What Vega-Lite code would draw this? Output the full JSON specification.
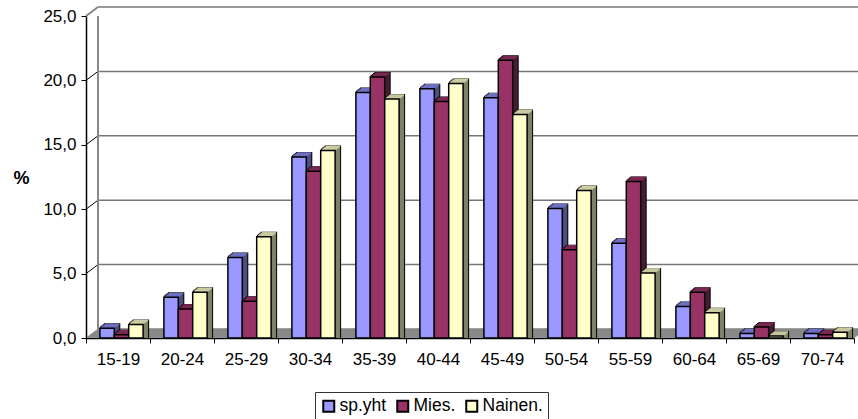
{
"$schema":"https://vega.github.io/schema/vega-lite/v6.json",
"width":768,"height":322,
"autosize":"none",
"padding":{"left":86,"top":16,"right":4,"bottom":81},
"background":"white",
"datasets":{
"bars":[
{"g":"15-19","s":"sp.yht","v":0.6},{"g":"20-24","s":"sp.yht","v":3.0},{"g":"25-29","s":"sp.yht","v":6.1},{"g":"30-34","s":"sp.yht","v":13.9},{"g":"35-39","s":"sp.yht","v":18.9},{"g":"40-44","s":"sp.yht","v":19.2},{"g":"45-49","s":"sp.yht","v":18.5},{"g":"50-54","s":"sp.yht","v":9.9},{"g":"55-59","s":"sp.yht","v":7.2},{"g":"60-64","s":"sp.yht","v":2.3},{"g":"65-69","s":"sp.yht","v":0.2},{"g":"70-74","s":"sp.yht","v":0.2},
{"g":"15-19","s":"Mies.","v":0.1},{"g":"20-24","s":"Mies.","v":2.1},{"g":"25-29","s":"Mies.","v":2.7},{"g":"30-34","s":"Mies.","v":12.8},{"g":"35-39","s":"Mies.","v":20.1},{"g":"40-44","s":"Mies.","v":18.2},{"g":"45-49","s":"Mies.","v":21.4},{"g":"50-54","s":"Mies.","v":6.7},{"g":"55-59","s":"Mies.","v":12.0},{"g":"60-64","s":"Mies.","v":3.4},{"g":"65-69","s":"Mies.","v":0.7},{"g":"70-74","s":"Mies.","v":0.1},
{"g":"15-19","s":"Nainen.","v":0.9},{"g":"20-24","s":"Nainen.","v":3.4},{"g":"25-29","s":"Nainen.","v":7.7},{"g":"30-34","s":"Nainen.","v":14.4},{"g":"35-39","s":"Nainen.","v":18.4},{"g":"40-44","s":"Nainen.","v":19.6},{"g":"45-49","s":"Nainen.","v":17.2},{"g":"50-54","s":"Nainen.","v":11.3},{"g":"55-59","s":"Nainen.","v":4.9},{"g":"60-64","s":"Nainen.","v":1.8},{"g":"65-69","s":"Nainen.","v":0.0},{"g":"70-74","s":"Nainen.","v":0.3}
],
"grid":[{"v":0},{"v":5},{"v":10},{"v":15},{"v":20},{"v":25}]
},
"data":{"name":"bars"},
"encoding":{
"x":{"field":"g","type":"nominal","sort":null,"title":null,"scale":{"domain":["15-19","20-24","25-29","30-34","35-39","40-44","45-49","50-54","55-59","60-64","65-69","70-74"],"paddingInner":0,"paddingOuter":0},
"axis":{"tickBand":"extent","labelAngle":0,"domainColor":"black","domainWidth":1.5,"tickColor":"black","tickSize":5,"labelFont":"Liberation Sans","labelFontSize":17,"labelColor":"black","labelPadding":8}},
"y":{"field":"v","type":"quantitative","title":"%","scale":{"domain":[0,25],"nice":false},
"axis":{"values":[0,5,10,15,20,25],"grid":false,"domainColor":"black","domainWidth":1.5,"tickColor":"black","tickSize":5,"labelFont":"Liberation Sans","labelFontSize":17,"labelColor":"black","labelPadding":5,"labelExpr":"replace(format(datum.value,'.1f'),'.',',')","titleAngle":0,"titleFont":"Liberation Sans","titleFontSize":18,"titleFontWeight":"bold","titleColor":"black","titleX":-65,"titleY":171}}
},
"layer":[
{"data":{"name":"grid"},"transform":[{"filter":"datum.v>0"}],"mark":{"type":"rule","color":"#777777","strokeWidth":1.5,"xOffset":12,"yOffset":-9,"x2Offset":44},"encoding":{"x":{"datum":"15-19","bandPosition":0},"x2":{"datum":"70-74"},"y":{"field":"v","type":"quantitative"}}},
{"data":{"name":"grid"},"transform":[{"filter":"datum.v==25"}],"mark":{"type":"rule","color":"#888888","strokeWidth":2,"x2Offset":-20,"y2Offset":-9},"encoding":{"x":{"datum":"15-19","bandPosition":0},"x2":{"datum":"15-19"},"y":{"field":"v","type":"quantitative"},"y2":{"field":"v"}}},
{"data":{"name":"grid"},"transform":[{"filter":"datum.v>0&&datum.v<25"}],"mark":{"type":"rule","color":"black","strokeWidth":1,"x2Offset":-20,"y2Offset":-9},"encoding":{"x":{"datum":"15-19","bandPosition":0},"x2":{"datum":"15-19"},"y":{"field":"v","type":"quantitative"},"y2":{"field":"v"}}},
{"transform":[{"filter":"datum.v==0"}],"data":{"name":"grid"},
"encoding":{"x":{"datum":"15-19","bandPosition":0},"x2":{"datum":"70-74"},"y":{"datum":0}},
"layer":[
{"mark":{"type":"rule","color":"#808080","strokeWidth":1.5,"yOffset":-1,"xOffset":1.33,"x2Offset":33.33}},
{"mark":{"type":"rule","color":"#808080","strokeWidth":1.5,"yOffset":-2,"xOffset":2.67,"x2Offset":34.67}},
{"mark":{"type":"rule","color":"#808080","strokeWidth":1.5,"yOffset":-3,"xOffset":4,"x2Offset":36}},
{"mark":{"type":"rule","color":"#808080","strokeWidth":1.5,"yOffset":-4,"xOffset":5.33,"x2Offset":37.33}},
{"mark":{"type":"rule","color":"#808080","strokeWidth":1.5,"yOffset":-5,"xOffset":6.67,"x2Offset":38.67}},
{"mark":{"type":"rule","color":"#808080","strokeWidth":1.5,"yOffset":-6,"xOffset":8,"x2Offset":40}},
{"mark":{"type":"rule","color":"#808080","strokeWidth":1.5,"yOffset":-7,"xOffset":9.33,"x2Offset":41.33}},
{"mark":{"type":"rule","color":"#808080","strokeWidth":1.5,"yOffset":-8,"xOffset":10.67,"x2Offset":42.67}},
{"mark":{"type":"rule","color":"#808080","strokeWidth":1.5,"yOffset":-9,"xOffset":12,"x2Offset":44}}
]},
{"data":{"name":"grid"},"transform":[{"filter":"datum.v==0"}],"mark":{"type":"rule","color":"#888888","strokeWidth":2,"xOffset":12,"yOffset":-9},"encoding":{"x":{"datum":"15-19","bandPosition":0},"y":{"datum":0},"y2":{"datum":25}}},
{"transform":[{"filter":"datum.s=='sp.yht'"}],
"layer":[
{"encoding":{"y2":{"datum":0}},"layer":[
{"mark":{"type":"bar","width":14.4,"fill":"black","stroke":"black","strokeWidth":2,"xOffset":-9.65,"yOffset":-3}},
{"mark":{"type":"bar","width":14.4,"fill":"black","stroke":"black","strokeWidth":2,"xOffset":-8.4,"yOffset":-4}},
{"mark":{"type":"bar","width":14.4,"fill":"black","stroke":"black","strokeWidth":2,"xOffset":-7.15,"yOffset":-5}},
{"mark":{"type":"bar","width":14.4,"fill":"black","stroke":"black","strokeWidth":2,"xOffset":-5.9,"yOffset":-6}},
{"mark":{"type":"bar","width":14.4,"fill":"#4D4D80","xOffset":-9.65,"yOffset":-3}},
{"mark":{"type":"bar","width":14.4,"fill":"#4D4D80","xOffset":-8.4,"yOffset":-4}},
{"mark":{"type":"bar","width":14.4,"fill":"#4D4D80","xOffset":-7.15,"yOffset":-5}},
{"mark":{"type":"bar","width":14.4,"fill":"#4D4D80","xOffset":-5.9,"yOffset":-6}}
]},
{"mark":{"type":"tick","size":14.4,"thickness":1.5,"color":"#6F6FC0","opacity":1,"xOffset":-9.65,"yOffset":-3}},
{"mark":{"type":"tick","size":14.4,"thickness":1.5,"color":"#6F6FC0","opacity":1,"xOffset":-8.4,"yOffset":-4}},
{"mark":{"type":"tick","size":14.4,"thickness":1.5,"color":"#6F6FC0","opacity":1,"xOffset":-7.15,"yOffset":-5}},
{"mark":{"type":"tick","size":14.4,"thickness":1.5,"color":"#6F6FC0","opacity":1,"xOffset":-5.9,"yOffset":-6}},
{"mark":{"type":"bar","width":14.4,"stroke":"black","strokeWidth":1.5,"xOffset":-10.9,"yOffset":-2},"encoding":{"y2":{"datum":0},"color":{"field":"s","type":"nominal","sort":null,"scale":{"domain":["sp.yht","Mies.","Nainen."],"range":["#9999FF","#993366","#FFFFCC"]},
"legend":{"orient":"none","legendX":229,"legendY":376,"direction":"horizontal","title":null,"symbolType":"square","symbolSize":121,"symbolStrokeColor":"black","symbolStrokeWidth":2,"strokeColor":"#333333","padding":5,"labelFont":"Liberation Sans","labelFontSize":17.5,"labelColor":"black","columnPadding":6,"labelOffset":2}}}}
]},
{"transform":[{"filter":"datum.s=='Mies.'"}],
"layer":[
{"encoding":{"y2":{"datum":0}},"layer":[
{"mark":{"type":"bar","width":14.4,"fill":"black","stroke":"black","strokeWidth":2,"xOffset":4.75,"yOffset":-3}},
{"mark":{"type":"bar","width":14.4,"fill":"black","stroke":"black","strokeWidth":2,"xOffset":6,"yOffset":-4}},
{"mark":{"type":"bar","width":14.4,"fill":"black","stroke":"black","strokeWidth":2,"xOffset":7.25,"yOffset":-5}},
{"mark":{"type":"bar","width":14.4,"fill":"black","stroke":"black","strokeWidth":2,"xOffset":8.5,"yOffset":-6}},
{"mark":{"type":"bar","width":14.4,"fill":"#4D1A33","xOffset":4.75,"yOffset":-3}},
{"mark":{"type":"bar","width":14.4,"fill":"#4D1A33","xOffset":6,"yOffset":-4}},
{"mark":{"type":"bar","width":14.4,"fill":"#4D1A33","xOffset":7.25,"yOffset":-5}},
{"mark":{"type":"bar","width":14.4,"fill":"#4D1A33","xOffset":8.5,"yOffset":-6}}
]},
{"mark":{"type":"tick","size":14.4,"thickness":1.5,"color":"#7A2952","opacity":1,"xOffset":4.75,"yOffset":-3}},
{"mark":{"type":"tick","size":14.4,"thickness":1.5,"color":"#7A2952","opacity":1,"xOffset":6,"yOffset":-4}},
{"mark":{"type":"tick","size":14.4,"thickness":1.5,"color":"#7A2952","opacity":1,"xOffset":7.25,"yOffset":-5}},
{"mark":{"type":"tick","size":14.4,"thickness":1.5,"color":"#7A2952","opacity":1,"xOffset":8.5,"yOffset":-6}},
{"mark":{"type":"bar","width":14.4,"stroke":"black","strokeWidth":1.5,"xOffset":3.5,"yOffset":-2},"encoding":{"y2":{"datum":0},"color":{"field":"s","type":"nominal","sort":null}}}
]},
{"transform":[{"filter":"datum.s=='Nainen.'"}],
"layer":[
{"encoding":{"y2":{"datum":0}},"layer":[
{"mark":{"type":"bar","width":14.4,"fill":"black","stroke":"black","strokeWidth":2,"xOffset":19.15,"yOffset":-3}},
{"mark":{"type":"bar","width":14.4,"fill":"black","stroke":"black","strokeWidth":2,"xOffset":20.4,"yOffset":-4}},
{"mark":{"type":"bar","width":14.4,"fill":"black","stroke":"black","strokeWidth":2,"xOffset":21.65,"yOffset":-5}},
{"mark":{"type":"bar","width":14.4,"fill":"black","stroke":"black","strokeWidth":2,"xOffset":22.9,"yOffset":-6}},
{"mark":{"type":"bar","width":14.4,"fill":"#808066","xOffset":19.15,"yOffset":-3}},
{"mark":{"type":"bar","width":14.4,"fill":"#808066","xOffset":20.4,"yOffset":-4}},
{"mark":{"type":"bar","width":14.4,"fill":"#808066","xOffset":21.65,"yOffset":-5}},
{"mark":{"type":"bar","width":14.4,"fill":"#808066","xOffset":22.9,"yOffset":-6}}
]},
{"mark":{"type":"tick","size":14.4,"thickness":1.5,"color":"#CCCCA3","opacity":1,"xOffset":19.15,"yOffset":-3}},
{"mark":{"type":"tick","size":14.4,"thickness":1.5,"color":"#CCCCA3","opacity":1,"xOffset":20.4,"yOffset":-4}},
{"mark":{"type":"tick","size":14.4,"thickness":1.5,"color":"#CCCCA3","opacity":1,"xOffset":21.65,"yOffset":-5}},
{"mark":{"type":"tick","size":14.4,"thickness":1.5,"color":"#CCCCA3","opacity":1,"xOffset":22.9,"yOffset":-6}},
{"mark":{"type":"bar","width":14.4,"stroke":"black","strokeWidth":1.5,"xOffset":17.9,"yOffset":-2},"encoding":{"y2":{"datum":0},"color":{"field":"s","type":"nominal","sort":null}}}
]}
],
"config":{"view":{"stroke":null}}
}
